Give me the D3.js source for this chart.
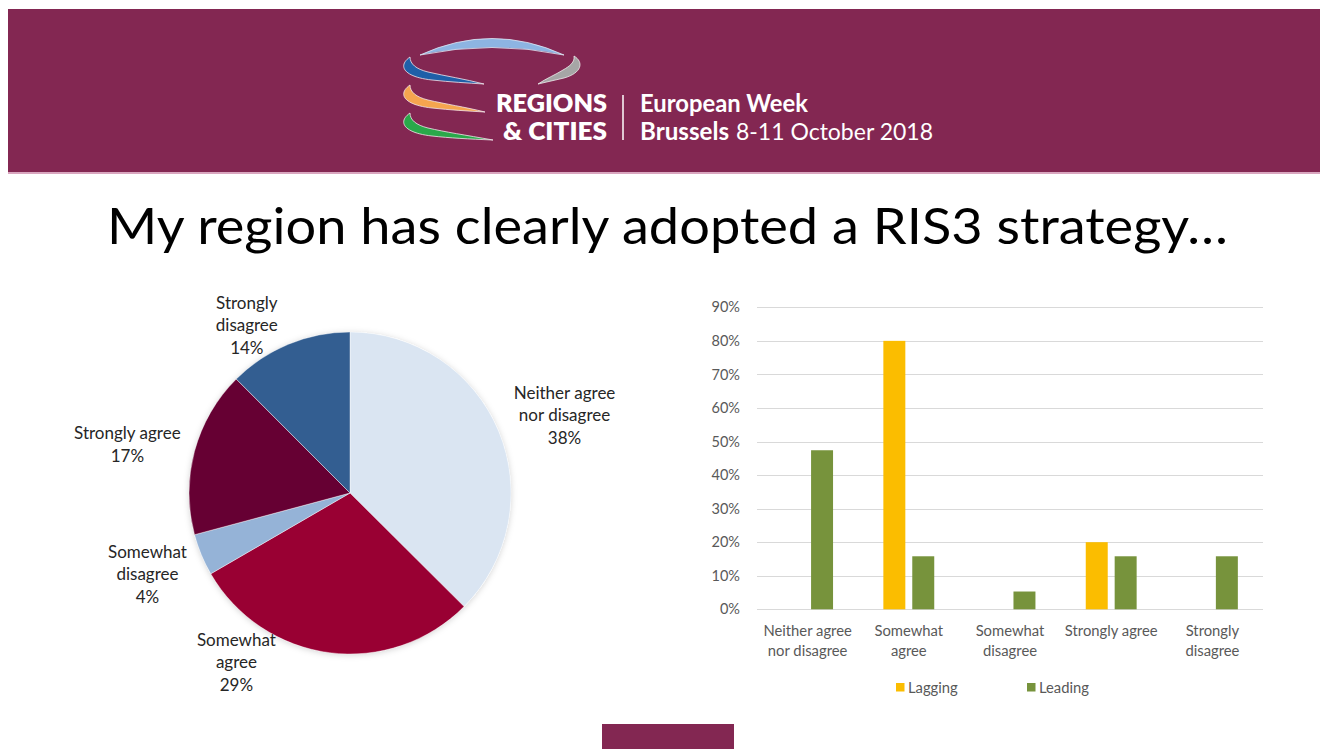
<!DOCTYPE html>
<html>
<head>
<meta charset="utf-8">
<script src="https://cdn.jsdelivr.net/npm/d3@7"></script>
<style>
  body { margin: 0; background: #fff; }
  svg text { font-family: Lato, "Open Sans", sans-serif; }
</style>
</head>
<body>
<svg id="chart" width="1320" height="749"></svg>
<script>
// ---- data ----
const categories = ["Neither agree nor disagree", "Somewhat agree", "Somewhat disagree", "Strongly agree", "Strongly disagree"];
const pieShares = [37.5, 29.2, 4.2, 16.7, 12.5];
const pieLabels = ["38%", "29%", "4%", "17%", "14%"];
const series = ["Lagging", "Leading"];
const lagging = [0, 80, 0, 20, 0];
const leading = [47.4, 15.8, 5.3, 15.8, 15.8];
const yTicks = [0, 10, 20, 30, 40, 50, 60, 70, 80, 90];

// how each category name breaks into lines
const wrap = {
  "Neither agree nor disagree": ["Neither agree", "nor disagree"],
  "Somewhat agree": ["Somewhat", "agree"],
  "Somewhat disagree": ["Somewhat", "disagree"],
  "Strongly agree": ["Strongly agree"],
  "Strongly disagree": ["Strongly", "disagree"]
};

const pieColors = ["#dae5f2", "#990033", "#95b3d7", "#660033", "#335e91"];
const barColors = {Lagging: "#fbbd00", Leading: "#77933c"};

const svg = d3.select("#chart");

// ---- header band ----
svg.append("rect").attr("x", 8).attr("y", 9).attr("width", 1312).attr("height", 163).attr("fill", "#832752");
svg.append("rect").attr("x", 8).attr("y", 172).attr("width", 1312).attr("height", 2).attr("fill", "#d9a6bf");

const logo = svg.append("g");
logo.append("path")
  .attr("d", "M420 55 Q492 22 564 55 Q492 40 420 55 Z")
  .attr("fill", "#8db4e2").attr("stroke", "#dfe9f5").attr("stroke-width", 0.8);
const swoosh = (dy, ex) => `M410 ${57 + dy} C397 ${66 + dy},404 ${77 + dy},432 ${80 + dy} C450 ${82 + dy},468 ${83 + dy},${ex} ${84 + dy} C465 ${79 + dy},445 ${76 + dy},428 ${72 + dy} C416 ${69 + dy},410 ${64 + dy},410 ${57 + dy} Z`;
[["#1f5fa8", 0, 484], ["#f5a54f", 28, 485], ["#2aa84a", 56, 493]].forEach(([c, dy, ex]) => {
  logo.append("path").attr("d", swoosh(dy, ex)).attr("fill", c)
    .attr("stroke", "#f2e6ec").attr("stroke-width", 0.8);
});
logo.append("path")
  .attr("d", "M574 56 C584 62,582 73,564 78 C555 80,547 82,538 84 C547 78,555 75,563 70 C570 66,575 62,574 56 Z")
  .attr("fill", "#a6a6a6").attr("stroke", "#eee").attr("stroke-width", 0.8);

const hdr = [
  {t: "REGIONS", x: 496, y: 112, w: 111, b: 800},
  {t: "& CITIES", x: 503, y: 140, w: 104, b: 800},
  {t: "European Week", x: 640, y: 112, w: 168, b: 700},
  {t: "Brussels", x: 640, y: 140, w: 89, b: 700},
  {t: "8-11 October 2018", x: 736, y: 140, w: 197, b: 400}
];
logo.selectAll("text.hdr").data(hdr).join("text")
  .attr("class", "hdr")
  .attr("x", d => d.x).attr("y", d => d.y)
  .attr("textLength", d => d.w).attr("lengthAdjust", "spacingAndGlyphs")
  .attr("fill", "#fff").attr("font-size", 24).attr("font-weight", d => d.b)
  .text(d => d.t);
logo.append("line").attr("x1", 623).attr("x2", 623).attr("y1", 95).attr("y2", 140)
  .attr("stroke", "#fff").attr("stroke-width", 1.5);

// ---- title ----
svg.append("text")
  .attr("x", 107).attr("y", 244)
  .attr("textLength", 1121).attr("lengthAdjust", "spacingAndGlyphs")
  .attr("font-size", 50).attr("fill", "#000")
  .text("My region has clearly adopted a RIS3 strategy…");

// ---- pie ----
const cx = 350, cy = 493, radius = 161;
const defs = svg.append("defs");
const f = defs.append("filter").attr("id", "shadow").attr("x", "-20%").attr("y", "-20%").attr("width", "140%").attr("height", "140%");
f.append("feDropShadow").attr("dx", 0).attr("dy", 1).attr("stdDeviation", 3).attr("flood-color", "#000").attr("flood-opacity", 0.18);

const pie = d3.pie().sort(null).value(d => d);
const arc = d3.arc().innerRadius(0).outerRadius(radius);
const labelArc = d3.arc().innerRadius(215).outerRadius(215);
const arcs = pie(pieShares);

const gPie = svg.append("g").attr("transform", `translate(${cx},${cy})`);
gPie.append("circle").attr("r", radius).attr("fill", "#fff").attr("filter", "url(#shadow)");
gPie.selectAll("path.slice").data(arcs).join("path")
  .attr("class", "slice")
  .attr("d", arc)
  .attr("fill", (d, i) => pieColors[i])
  .attr("stroke", "#fff").attr("stroke-width", 0.4);

// Excel "best fit" nudges for the outside labels
const labelNudge = [[16, 5], [-86, -44], [-4, -1], [-15, 7], [-21, 31]];
const pieLineH = 22.5;
arcs.forEach((d, i) => {
  const [lx, ly] = labelArc.centroid(d);
  const lines = wrap[categories[i]].concat([pieLabels[i]]);
  const x = lx + labelNudge[i][0];
  const y0 = ly + labelNudge[i][1] - (lines.length - 1) * pieLineH / 2;
  const t = gPie.append("text")
    .attr("text-anchor", "middle").attr("font-size", 17).attr("fill", "#262626");
  lines.forEach((l, j) => {
    t.append("tspan").attr("x", x).attr("y", y0 + j * pieLineH).attr("dy", "0.35em").text(l);
  });
});

// ---- bar chart ----
const x0 = d3.scaleBand().domain(categories).range([757, 1263]);
const x1 = d3.scaleBand().domain(series).range([0, x0.bandwidth()]).paddingInner(0.24).paddingOuter(0.87);
const y = d3.scaleLinear().domain([0, 90]).range([609.3, 307.3]);

const gBar = svg.append("g");
gBar.selectAll("line.grid").data(yTicks).join("line")
  .attr("class", "grid")
  .attr("x1", 757).attr("x2", 1263)
  .attr("y1", d => Math.round(y(d)) + 0.5).attr("y2", d => Math.round(y(d)) + 0.5)
  .attr("stroke", "#d9d9d9").attr("stroke-width", 1);

const yAxis = gBar.append("g").attr("transform", "translate(757,0)")
  .call(d3.axisLeft(y).tickValues(yTicks).tickFormat(d => d + "%").tickSize(0).tickPadding(17));
yAxis.select(".domain").remove();
yAxis.selectAll("text").attr("font-size", 14.5).attr("fill", "#595959").attr("font-family", "Lato, sans-serif");

const barData = [];
categories.forEach((c, i) => {
  barData.push({c, s: "Lagging", v: lagging[i]});
  barData.push({c, s: "Leading", v: leading[i]});
});
gBar.selectAll("rect.bar").data(barData.filter(d => d.v > 0)).join("rect")
  .attr("class", "bar")
  .attr("x", d => x0(d.c) + x1(d.s))
  .attr("width", x1.bandwidth())
  .attr("y", d => y(d.v))
  .attr("height", d => y(0) - y(d.v))
  .attr("fill", d => barColors[d.s]);

const xAxis = gBar.append("g").attr("transform", "translate(0,609)")
  .call(d3.axisBottom(x0).tickSize(0).tickFormat(""));
xAxis.select(".domain").remove();
xAxis.selectAll(".tick").each(function(c) {
  const t = d3.select(this).append("text")
    .attr("text-anchor", "middle").attr("font-size", 14.8).attr("fill", "#595959");
  wrap[c].forEach((l, j) => {
    t.append("tspan").attr("x", 0).attr("y", 22 + j * 20).attr("dy", "0.35em").text(l);
  });
});

// legend
const legend = gBar.append("g").attr("transform", "translate(896,683)");
const legX = d3.scalePoint().domain(series).range([0, 131]);
const li = legend.selectAll("g").data(series).join("g").attr("transform", d => `translate(${legX(d)},0)`);
li.append("rect").attr("width", 8.5).attr("height", 8.5).attr("fill", d => barColors[d]);
li.append("text").attr("x", 12).attr("y", 4.5).attr("dy", "0.35em")
  .attr("font-size", 14.8).attr("fill", "#595959").text(d => d);

// bottom tab
svg.append("rect").attr("x", 602).attr("y", 724).attr("width", 132).attr("height", 25).attr("fill", "#832752");
</script>
</body>
</html>
